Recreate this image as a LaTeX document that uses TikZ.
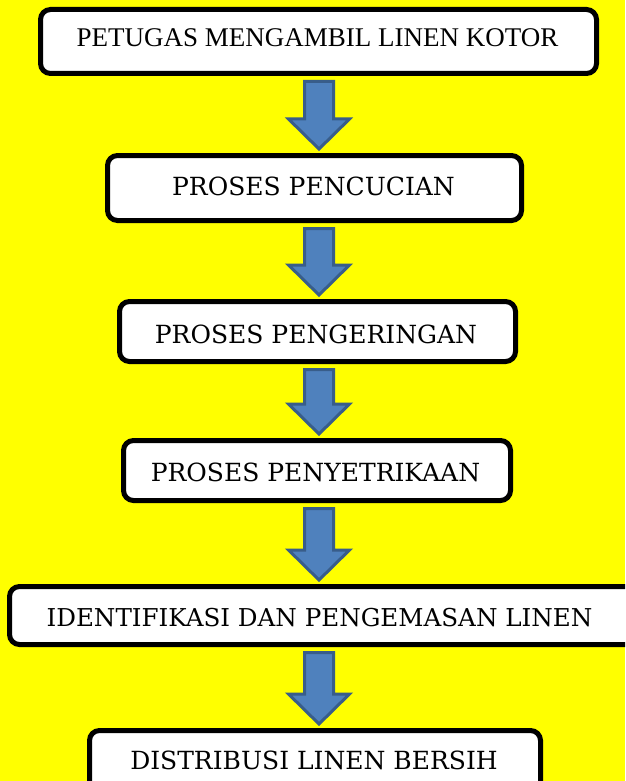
\documentclass[tikz,border=0pt]{standalone}
\usepackage{fontspec}
\setmainfont{DejaVu Serif}
\newfontfamily\garafont{Liberation Serif}
\usetikzlibrary{calc}
\definecolor{bgyellow}{HTML}{FFFF00}
\definecolor{arrfill}{HTML}{4F81BD}
\definecolor{arrline}{HTML}{385D8A}
\newcommand\flowarrow[2]{\draw[barrow] let \p1=(ax |- #1.south), \p2=(ax |- #2.north) in
  (\x1-14.5pt,\y1-5.5pt) -- (\x1+14.5pt,\y1-5.5pt) -- (\x1+14.5pt,\y2+34pt) -- (\x1+30.5pt,\y2+34pt)
  -- (\x1,\y2+4pt) -- (\x1-30.5pt,\y2+34pt) -- (\x1-14.5pt,\y2+34pt) -- cycle;}
\begin{document}
\begin{tikzpicture}[x=1pt,y=-1pt,
  stepbox/.style={draw=black, line width=5pt, fill=white, rounded corners=10pt, inner sep=0pt},
  lbl/.style={anchor=base, inner sep=0pt, text=black, font=\fontsize{25}{30}\selectfont},
  barrow/.style={draw=arrline, fill=arrfill, line width=3pt, line join=miter}]
\fill[bgyellow] (0,0) rectangle (625,781);
\useasboundingbox (0,0) rectangle (625,781);
\clip (0,0) rectangle (625,781);
\coordinate (ax) at (319,0);
\node[stepbox, minimum width=556pt, minimum height=64pt] (b1) at (318.5,41.5) {};
\node[stepbox, minimum width=414pt, minimum height=65pt] (b2) at (314.5,188) {};
\node[stepbox, minimum width=396pt, minimum height=60pt] (b3) at (317.5,331.5) {};
\node[stepbox, minimum width=387pt, minimum height=60pt] (b4) at (317,470.5) {};
\node[stepbox, minimum width=630pt, minimum height=58pt] (b5) at (324.5,615.5) {};
\node[stepbox, minimum width=451pt, minimum height=65pt] (b6) at (315,763) {};
\node[lbl, font=\garafont\fontsize{27}{30}\selectfont] (t1) at (317.5,47) {PETUGAS MENGAMBIL LINEN KOTOR};
\node[lbl] (t2) at (313.5,195) {PROSES PENCUCIAN};
\node[lbl] (t3) at (316,343) {PROSES PENGERINGAN};
\node[lbl] (t4) at (315.5,481) {PROSES PENYETRIKAAN};
\node[lbl, font=\fontsize{24.6}{30}\selectfont] (t5) at (319.5,626) {IDENTIFIKASI DAN PENGEMASAN LINEN};
\node[lbl] (t6) at (314,769) {DISTRIBUSI LINEN BERSIH};
\flowarrow{b1}{b2}
\flowarrow{b2}{b3}
\flowarrow{b3}{b4}
\flowarrow{b4}{b5}
\flowarrow{b5}{b6}
\end{tikzpicture}
\end{document}
